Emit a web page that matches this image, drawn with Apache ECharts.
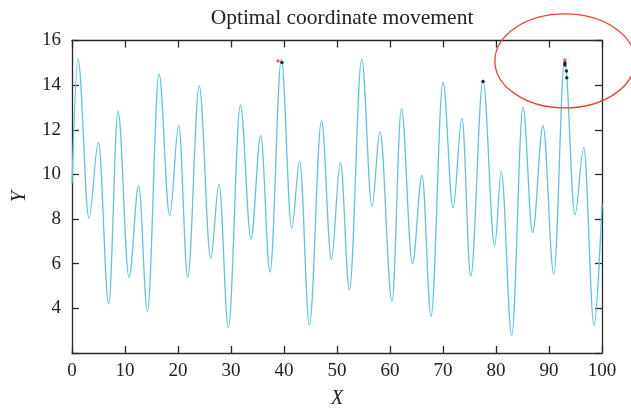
<!DOCTYPE html>
<html>
<head>
<meta charset="utf-8">
<script src="https://cdn.jsdelivr.net/npm/echarts@6/dist/echarts.min.js"></script>
<style>
  html, body { margin: 0; padding: 0; background: #fff; }
  #chart { width: 631px; height: 413px; }
</style>
</head>
<body>
<div id="chart"></div>
<script>
// Turning points of the search path (x, y), plus its two end points
const pathX = [0, 1.13, 3.2, 4.98, 6.92, 8.68, 10.76, 12.58, 14.22, 16.42, 18.43, 20.13, 21.83,
  24.0, 26.17, 27.74, 29.5, 31.77, 33.78, 35.6, 37.36, 39.5, 41.45, 42.96, 44.79, 47.08,
  48.94, 50.64, 52.34, 54.66, 56.6, 58.1, 60.38, 62.15, 64.23, 66.04, 67.74, 70.0, 71.9,
  73.58, 75.23, 77.55, 79.75, 81.0, 82.96, 85.1, 86.9, 88.87, 90.9, 92.96, 94.9, 96.55, 98.5, 100];
const pathY = [9.6, 15.16, 8.04, 11.44, 4.2, 12.83, 5.38, 9.5, 3.86, 14.5, 8.15, 12.2, 5.38,
  13.98, 6.25, 9.57, 3.14, 13.1, 7.11, 11.74, 5.62, 15.16, 7.59, 10.6, 3.26, 12.41,
  6.2, 10.55, 4.83, 15.17, 8.56, 11.92, 4.3, 12.95, 6.0, 9.96, 3.63, 14.13, 8.51,
  12.51, 5.45, 14.23, 6.8, 10.13, 2.78, 13.0, 7.4, 12.17, 5.54, 15.13, 8.19, 11.2, 3.23, 8.7];

// Best coordinates found (red) and the other candidates (black)
const bestX = [38.87, 93.0];
const bestY = [15.08, 15.13];
const candX = [39.62, 77.55, 93.0, 93.0, 93.3, 93.35];
const candY = [15.02, 14.16, 15.0, 14.9, 14.63, 14.33];

const xTicks = { min: 0, max: 100, step: 10 };
const yTicks = { min: 2, max: 16, step: 2 };

const serif = 'Liberation Serif';
const frame = '#2a2a2a';

const zip = (xs, ys) => xs.map((x, i) => [x, ys[i]]);

const chart = echarts.init(document.getElementById('chart'), null, { renderer: 'canvas' });

const plot = { left: 72, right: 29, top: 40.5, bottom: 60 };

const baseAxis = {
  axisLine: { show: true, onZero: false, lineStyle: { color: frame, width: 1.3 } },
  axisTick: { show: true, inside: true, length: 7, lineStyle: { color: frame, width: 1.3 } },
  splitLine: { show: false }
};

chart.setOption({
  animation: false,
  backgroundColor: '#fff',
  title: {
    text: 'Optimal coordinate movement',
    left: plot.left + (631 - plot.left - plot.right) / 2,
    textAlign: 'center',
    top: 2,
    textStyle: { fontFamily: serif, fontSize: 21.5, fontWeight: 'normal', color: '#222' }
  },
  grid: Object.assign({ containLabel: false, outerBoundsMode: 'none' }, plot),
  xAxis: [
    Object.assign({}, baseAxis, {
      type: 'value', position: 'bottom',
      min: xTicks.min, max: xTicks.max, interval: xTicks.step,
      name: 'X', nameLocation: 'middle', nameGap: 36,
      nameTextStyle: { fontFamily: serif, fontSize: 20, fontStyle: 'italic', color: '#222' },
      axisLabel: { fontFamily: serif, fontSize: 19, color: '#222', margin: 9 }
    }),
    Object.assign({}, baseAxis, {
      type: 'value', position: 'top',
      min: xTicks.min, max: xTicks.max, interval: xTicks.step,
      axisLabel: { show: false }
    })
  ],
  yAxis: [
    Object.assign({}, baseAxis, {
      type: 'value', position: 'left',
      min: yTicks.min, max: yTicks.max, interval: yTicks.step,
      name: 'Y', nameLocation: 'middle', nameGap: 42, nameRotate: 90,
      nameTextStyle: { fontFamily: serif, fontSize: 20, fontStyle: 'italic', color: '#222' },
      axisLabel: {
        fontFamily: serif, fontSize: 19, color: '#222', margin: 11,
        formatter: v => (v === yTicks.min ? '' : String(v))
      }
    }),
    Object.assign({}, baseAxis, {
      type: 'value', position: 'right',
      min: yTicks.min, max: yTicks.max, interval: yTicks.step,
      axisLabel: { show: false }
    })
  ],
  series: [
    {
      type: 'line',
      data: zip(pathX, pathY),
      showSymbol: false,
      smooth: 0.36,
      smoothMonotone: 'x',
      lineStyle: { color: '#5ec4e6', width: 1.3 },
      z: 2
    },
    {
      type: 'scatter',
      data: zip(candX, candY),
      symbolSize: 3.5,
      itemStyle: { color: '#000' },
      z: 3
    },
    {
      type: 'scatter',
      data: zip(bestX, bestY),
      symbolSize: 3.5,
      itemStyle: { color: '#ff3b30' },
      z: 4
    }
  ]
});

// Ring around the best coordinate on the right
const ringCenter = chart.convertToPixel({ xAxisIndex: 0, yAxisIndex: 0 }, [bestX[1], bestY[1]]);
chart.setOption({
  graphic: [{
    type: 'ellipse',
    shape: { cx: ringCenter[0], cy: ringCenter[1] + 1, rx: 70, ry: 47 },
    style: { fill: 'none', stroke: '#ee4035', lineWidth: 1.3 },
    z: 10
  }]
});
</script>
</body>
</html>
